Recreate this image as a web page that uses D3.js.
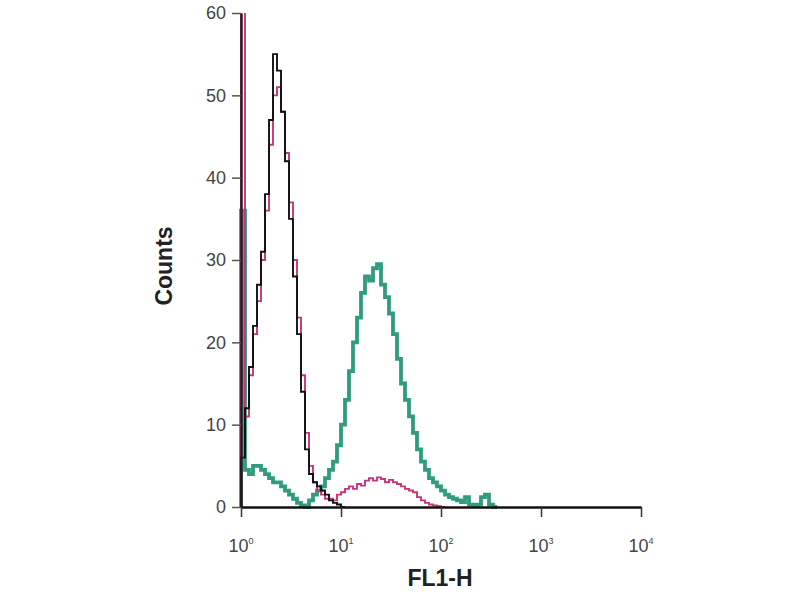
<!DOCTYPE html>
<html>
<head>
<meta charset="utf-8">
<script src="https://cdn.jsdelivr.net/npm/d3@7"></script>
<style>
  body { margin: 0; background: #fff; }
  text { font-family: "Liberation Sans", Arial, sans-serif; }
</style>
</head>
<body>
<div id="chart"></div>
<script>
// histogram counts per log bin (bin width 0.04 decade, starting at 10^0)
const binWidth = 0.04;
const blackCounts = [6, 12, 17, 22, 27, 31, 38, 47, 55, 53, 48, 42, 35, 28, 21, 14, 7, 4, 3, 2.5, 2, 1.5, 0.8, 0.5, 0.3, 0];
const pinkCounts = [75, 11, 16, 21, 25, 30, 36, 44, 50, 51, 48, 43, 37, 30, 23, 16, 9, 5, 3, 2, 1.5, 1, 1, 0.8,
  1.5, 1.8, 2.2, 2.5, 2.2, 2.8, 2.6, 3.2, 3.5, 3.2, 3.6, 3.4, 3.0, 3.3, 3, 2.8, 2.5, 2.2, 2, 1.8, 1.2, 0.8, 0.5, 0.3, 0.2, 0.1, 0];
const greenCounts = [36, 4.5, 4, 5, 5, 4.5, 4, 3.5, 3, 3, 2.5, 2, 1.5, 1, 0.5, 0.2, 0, 0.8, 1.5, 2, 2.5, 3.5, 4.5, 5.5,
  7.5, 10, 13, 16.5, 20, 23, 26, 28, 27.5, 29, 29.5, 27, 25.5, 23.5, 21, 18, 15, 13, 11, 9, 7, 5.5, 4.5, 3.5, 3, 2.5,
  2, 1.5, 1.2, 1, 0.8, 0.6, 1.2, 0.3, 0.2, 0.3, 1.2, 1.5, 0.3, 0];
const yTicks = [0, 10, 20, 30, 40, 50, 60];
const xTicks = [1, 10, 100, 1000, 10000];

const width = 800, height = 600;
const margin = {top: 13, right: 159, bottom: 93, left: 241};

const svg = d3.select("#chart").append("svg").attr("width", width).attr("height", height);

const x = d3.scaleLog().domain([1, 10000]).range([margin.left, width - margin.right]);
const y = d3.scaleLinear().domain([0, 60]).range([height - margin.bottom, margin.top]);

svg.append("clipPath").attr("id", "plot")
  .append("rect").attr("x", margin.left - 5).attr("y", margin.top)
  .attr("width", width - margin.right - margin.left + 10).attr("height", height - margin.bottom - margin.top + 5);

function stepPoints(counts) {
  const pts = [[1, 0]];
  counts.forEach((c, i) => pts.push([Math.pow(10, i * binWidth), c]));
  pts.push([Math.pow(10, counts.length * binWidth), counts[counts.length - 1]]);
  return pts;
}

const line = d3.line().x(d => x(d[0])).y(d => y(d[1])).curve(d3.curveStepAfter);

const series = [
  {counts: greenCounts, color: "#2f9c7f", w: 3.8},
  {counts: pinkCounts, color: "#c8357a", w: 1.9},
  {counts: blackCounts, color: "#111", w: 1.9}
];
const g = svg.append("g").attr("clip-path", "url(#plot)");
series.forEach(s => {
  g.append("path").datum(stepPoints(s.counts))
    .attr("fill", "none").attr("stroke", s.color).attr("stroke-width", s.w)
    .attr("stroke-linejoin", "miter").attr("d", line);
});

// y axis
const yAxis = svg.append("g").attr("transform", `translate(${margin.left},0)`)
  .call(d3.axisLeft(y).tickValues(yTicks).tickSize(9).tickSizeOuter(0).tickPadding(6));
yAxis.select(".domain").attr("stroke", "#2a1a22").attr("stroke-width", 2.5);
yAxis.selectAll(".tick line").attr("stroke", "#555").attr("stroke-width", 1.5);
yAxis.selectAll(".tick text").attr("font-size", 18).attr("fill", "#444")
  .attr("font-family", "Liberation Sans, Arial, sans-serif");

// x axis
const xAxis = svg.append("g").attr("transform", `translate(0,${height - margin.bottom})`)
  .call(d3.axisBottom(x).tickValues(xTicks).tickSize(10).tickSizeOuter(0).tickFormat(""));
xAxis.select(".domain").attr("stroke", "#111").attr("stroke-width", 2.5);
xAxis.selectAll(".tick line").attr("stroke", "#333").attr("stroke-width", 1.5);
xTicks.forEach(t => {
  const lbl = svg.append("text").attr("x", x(t)).attr("y", height - margin.bottom + 45)
    .attr("text-anchor", "middle").attr("fill", "#444").attr("font-size", 18);
  lbl.append("tspan").text("10");
  lbl.append("tspan").attr("font-size", 9).attr("dy", -8).text(Math.round(Math.log10(t)));
});

svg.append("text").attr("x", 440).attr("y", 586).attr("text-anchor", "middle")
  .attr("font-size", 23).attr("font-weight", "bold").attr("fill", "#222").text("FL1-H");
svg.append("text").attr("transform", "translate(172,266) rotate(-90)").attr("text-anchor", "middle")
  .attr("font-size", 23).attr("font-weight", "bold").attr("fill", "#222").text("Counts");
</script>
</body>
</html>
